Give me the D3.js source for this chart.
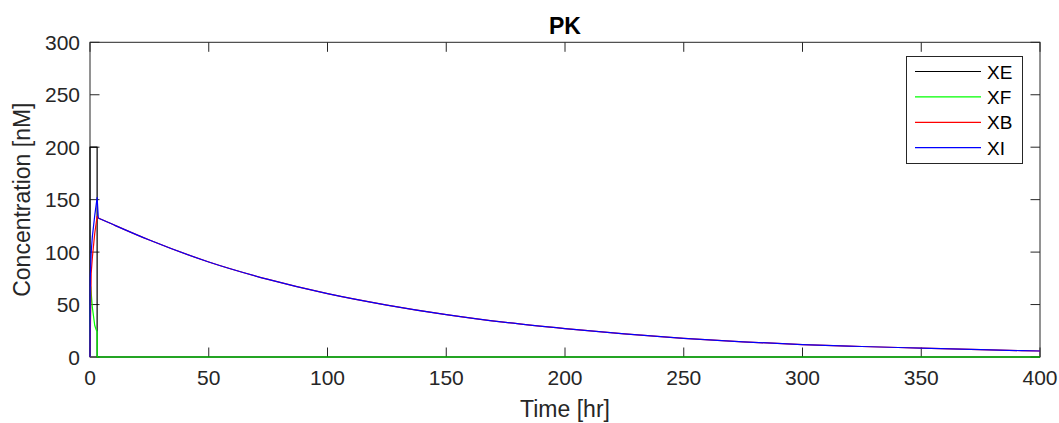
<!DOCTYPE html>
<html>
<head>
<meta charset="utf-8">
<script src="https://cdn.jsdelivr.net/npm/d3@7"></script>
<style>
    body { margin: 0; background: #fff; }
    svg { font-family: "Liberation Sans", Arial, Helvetica, sans-serif; }
</style>
</head>
<body>
<div id="chart"></div>
<script>
// PK simulation output
const xTicks = [0, 50, 100, 150, 200, 250, 300, 350, 400];
const yTicks = [0, 50, 100, 150, 200, 250, 300];

// XE - dosing compartment
const xeTime = [0, 0, 3, 3, 400];
const xeValues = [0, 200, 200, 0, 0];

// XF
const xfTime = [0, 0.3, 1, 2, 2.6, 3, 3, 400];
const xfValues = [0, 67, 47, 30, 26, 24, 0, 0];

// XB - infusion phase
const xbTime = [0, 0.5, 1, 2, 3, 3.5];
const xbValues = [0, 80, 95, 118, 134, 132.5];

// XI - infusion phase
const xiTime = [0, 0.1, 0.5, 1, 2, 3, 3.5];
const xiValues = [0, 75, 100, 115, 135, 152, 132.5];

// elimination phase, XB and XI lie on top of each other
const decayTime = [3.5, 10, 25, 50, 75, 100, 125, 150, 175, 200, 225, 250, 275, 300, 325, 350, 375, 400];
const decayValues = [132.5, 126, 111.5, 90.6, 74, 60.4, 49.5, 40.4, 33, 27.1, 22, 17.8, 14.5, 11.8, 10, 8.5, 7, 5.7];

const seriesNames = ["XE", "XF", "XB", "XI"];
const seriesColors = ["#000000", "#00ff00", "#ff0000", "#0000ff"];

const width = 1059;
const height = 423;
const margin = { top: 42.3, right: 19, bottom: 66, left: 90 };
const axisColor = "#262626";
const tickLen = 9.5;

const svg = d3.select("#chart")
    .append("svg")
    .attr("width", width)
    .attr("height", height);

const xScale = d3.scaleLinear()
    .domain([0, 400])
    .range([margin.left, width - margin.right]);

const yScale = d3.scaleLinear()
    .domain([0, 300])
    .range([height - margin.bottom, margin.top]);

const x0 = xScale(0), x1 = xScale(400);
const y0 = yScale(0), y1 = yScale(300);

// axes box
svg.append("rect")
    .attr("x", x0)
    .attr("y", y1)
    .attr("width", x1 - x0)
    .attr("height", y0 - y1)
    .attr("fill", "none")
    .attr("stroke", axisColor)
    .attr("stroke-width", 1);

// x ticks (bottom and top, pointing inward)
const xt = svg.append("g");
xTicks.forEach(t => {
    const x = xScale(t);
    xt.append("line").attr("x1", x).attr("x2", x).attr("y1", y0).attr("y2", y0 - tickLen)
        .attr("stroke", axisColor);
    xt.append("line").attr("x1", x).attr("x2", x).attr("y1", y1).attr("y2", y1 + tickLen)
        .attr("stroke", axisColor);
    xt.append("text")
        .attr("x", x)
        .attr("y", y0 + 28)
        .attr("text-anchor", "middle")
        .style("font-size", "21px")
        .attr("fill", axisColor)
        .text(t);
});

// y ticks (left and right)
const yt = svg.append("g");
yTicks.forEach(v => {
    const y = yScale(v);
    yt.append("line").attr("x1", x0).attr("x2", x0 + tickLen).attr("y1", y).attr("y2", y)
        .attr("stroke", axisColor);
    yt.append("line").attr("x1", x1).attr("x2", x1 - tickLen).attr("y1", y).attr("y2", y)
        .attr("stroke", axisColor);
    yt.append("text")
        .attr("x", x0 - 10)
        .attr("y", y + 7.5)
        .attr("text-anchor", "end")
        .style("font-size", "21px")
        .attr("fill", axisColor)
        .text(v);
});

// lines (drawn over the axes, like the original)
const toPoints = (ts, vs) => ts.map((t, i) => [t, vs[i]]);
const linear = d3.line().x(d => xScale(d[0])).y(d => yScale(d[1]));
const smooth = d3.line().x(d => xScale(d[0])).y(d => yScale(d[1])).curve(d3.curveMonotoneX);
const decayPts = toPoints(decayTime, decayValues);

const paths = [
    linear(toPoints(xeTime, xeValues)),
    linear(toPoints(xfTime, xfValues)),
    linear(toPoints(xbTime, xbValues)) + smooth(decayPts),
    linear(toPoints(xiTime, xiValues)) + smooth(decayPts)
];

svg.append("g")
    .selectAll("path")
    .data(paths)
    .enter().append("path")
    .attr("d", d => d)
    .attr("fill", "none")
    .attr("stroke", (d, i) => seriesColors[i])
    .attr("stroke-width", 1.2)
    .attr("stroke-linejoin", "round");

// title and axis labels
svg.append("text")
    .attr("x", (x0 + x1) / 2)
    .attr("y", 34)
    .attr("text-anchor", "middle")
    .style("font-size", "23px")
    .style("font-weight", "bold")
    .attr("fill", "#000")
    .text("PK");

svg.append("text")
    .attr("x", (x0 + x1) / 2)
    .attr("y", 417)
    .attr("text-anchor", "middle")
    .style("font-size", "23px")
    .attr("fill", axisColor)
    .text("Time [hr]");

svg.append("text")
    .attr("transform", "rotate(-90)")
    .attr("x", -(y0 + y1) / 2)
    .attr("y", 30)
    .attr("text-anchor", "middle")
    .style("font-size", "23px")
    .attr("fill", axisColor)
    .text("Concentration [nM]");

// legend
const legend = svg.append("g");
legend.append("rect")
    .attr("x", 906.5)
    .attr("y", 56.5)
    .attr("width", 116)
    .attr("height", 107)
    .attr("fill", "#fff")
    .attr("stroke", axisColor)
    .attr("stroke-width", 1);

const rowY = d3.scalePoint().domain(seriesNames).range([71.5, 147.7]);

seriesNames.forEach((name, i) => {
    const y = rowY(name);
    legend.append("line")
        .attr("x1", 915).attr("x2", 981)
        .attr("y1", y).attr("y2", y)
        .attr("stroke", seriesColors[i])
        .attr("stroke-width", 1.2);
    legend.append("text")
        .attr("x", 987)
        .attr("y", y + 7)
        .style("font-size", "19px")
        .attr("fill", "#000")
        .text(name);
});
</script>
</body>
</html>
